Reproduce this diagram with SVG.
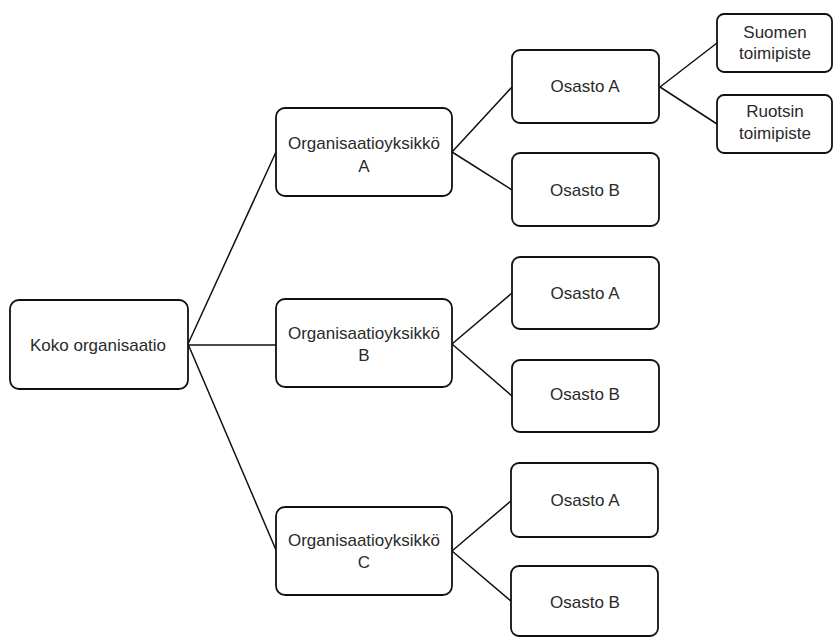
<svg xmlns="http://www.w3.org/2000/svg" width="833" height="637" viewBox="0 0 833 637">
<style>
.box{fill:#fff;stroke:#111;stroke-width:1.8;stroke-linejoin:round}
.t{font-family:"Liberation Sans",Arial,sans-serif;font-size:17px;fill:#2a2a2a;text-anchor:middle}
.c{fill:none;stroke:#111;stroke-width:1.5;stroke-linecap:round}
</style>
<rect width="833" height="637" fill="#fff"/>
<g id="connectors">
<path class="c" d="M188,344 L276,152"/>
<path class="c" d="M178,349 L188,345 L276,345"/>
<path class="c" d="M188,344 L276,550" stroke="#333" stroke-width="2.2"/>
<path class="c" d="M452,152 L512,87"/>
<path class="c" d="M452,152 L512,190"/>
<path class="c" d="M452,344 L512,293"/>
<path class="c" d="M452,344 L512,396"/>
<path class="c" d="M452,551 L512,500"/>
<path class="c" d="M452,551 L512,602"/>
<path class="c" d="M660,87 L717,43"/>
<path class="c" d="M660,87 L717,124"/>
</g>
<g id="root">
<rect class="box" x="10" y="300" width="178" height="89" rx="9"/>
<text class="t" x="98" y="351">Koko organisaatio</text>
</g>
<g id="orgA">
<rect class="box" x="276" y="108" width="176" height="88" rx="9"/>
<text class="t" x="364" y="149">Organisaatioyksikkö</text>
<text class="t" x="364" y="172">A</text>
</g>
<g id="orgB">
<rect class="box" x="276" y="299" width="176" height="88" rx="9"/>
<text class="t" x="364" y="339">Organisaatioyksikkö</text>
<text class="t" x="364" y="361">B</text>
</g>
<g id="orgC">
<rect class="box" x="276" y="507" width="176" height="88" rx="9"/>
<text class="t" x="364" y="546">Organisaatioyksikkö</text>
<text class="t" x="364" y="568">C</text>
</g>
<g id="aOsastoA">
<rect class="box" x="512" y="50" width="147" height="73" rx="8"/>
<text class="t" x="585" y="92">Osasto A</text>
</g>
<g id="aOsastoB">
<rect class="box" x="512" y="153" width="147" height="73" rx="8"/>
<text class="t" x="585" y="196">Osasto B</text>
</g>
<g id="suomen">
<rect class="box" x="717" y="14" width="115" height="58" rx="7"/>
<text class="t" x="775" y="38">Suomen</text>
<text class="t" x="775" y="59">toimipiste</text>
</g>
<g id="ruotsin">
<rect class="box" x="717" y="95" width="115" height="58" rx="7"/>
<text class="t" x="775" y="117">Ruotsin</text>
<text class="t" x="775" y="139">toimipiste</text>
</g>
<g id="bOsastoA">
<rect class="box" x="512" y="257" width="147" height="72" rx="8"/>
<text class="t" x="585" y="299">Osasto A</text>
</g>
<g id="bOsastoB">
<rect class="box" x="512" y="360" width="147" height="72" rx="8"/>
<text class="t" x="585" y="400">Osasto B</text>
</g>
<g id="cOsastoA">
<rect class="box" x="511" y="463" width="147" height="74" rx="8"/>
<text class="t" x="585" y="506">Osasto A</text>
</g>
<g id="cOsastoB">
<rect class="box" x="511" y="566" width="147" height="70" rx="8"/>
<text class="t" x="585" y="608">Osasto B</text>
</g>
</svg>
